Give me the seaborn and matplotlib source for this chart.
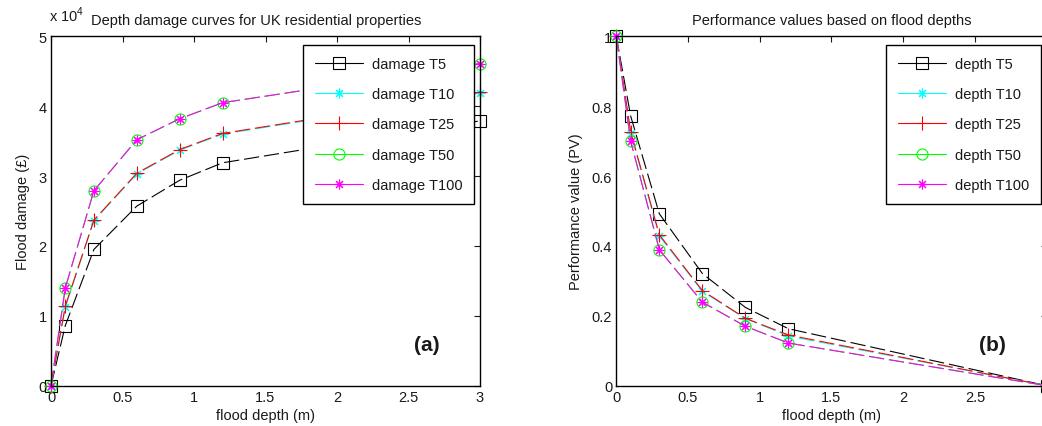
import matplotlib
matplotlib.use("Agg")
import matplotlib.pyplot as plt
from matplotlib.lines import Line2D
from matplotlib.ticker import FuncFormatter, MultipleLocator
import seaborn as sns

# Flood depths (m) at which damage and performance values were evaluated
depth = [0.0, 0.1, 0.3, 0.6, 0.9, 1.2, 3.0]

# Return periods
series_names = ["T5", "T10", "T25", "T50", "T100"]

# Depth damage (GBP) for each return period
damage_T5 = [0, 8600, 19500, 25700, 29400, 31900, 37900]
damage_T10 = [0, 11200, 23600, 30300, 33700, 36000, 41900]
damage_T25 = [0, 11400, 23700, 30400, 33800, 36100, 42000]
damage_T50 = [0, 14000, 27900, 35200, 38200, 40500, 46100]
damage_T100 = [0, 14000, 27900, 35200, 38200, 40500, 46100]

# Performance values for each return period
pv_T5 = [1.0, 0.772, 0.492, 0.321, 0.224, 0.163, 0.0]
pv_T10 = [1.0, 0.722, 0.428, 0.270, 0.192, 0.142, 0.0]
pv_T25 = [1.0, 0.727, 0.432, 0.272, 0.193, 0.145, 0.0]
pv_T50 = [1.0, 0.700, 0.389, 0.239, 0.170, 0.122, 0.0]
pv_T100 = [1.0, 0.700, 0.389, 0.239, 0.170, 0.122, 0.0]

damage = [damage_T5, damage_T10, damage_T25, damage_T50, damage_T100]
pv = [pv_T5, pv_T10, pv_T25, pv_T50, pv_T100]

colors = ["#000000", "#00FFFF", "#FF0000", "#00FF00", "#FF00FF"]
markers = ["s", (8, 2, 0), "+", "o", (8, 2, 0)]
msizes = [8.5, 7, 10, 8, 7]

sns.set_theme(style="white")
plt.rcParams["font.family"] = ["Liberation Sans", "DejaVu Sans"]
plt.rcParams["mathtext.fontset"] = "custom"
plt.rcParams["mathtext.rm"] = "Liberation Sans"
plt.rcParams["lines.scale_dashes"] = False
plt.rcParams["text.color"] = "#1a1a1a"
plt.rcParams["axes.labelcolor"] = "#1a1a1a"
plt.rcParams["xtick.color"] = "#1a1a1a"
plt.rcParams["ytick.color"] = "#1a1a1a"

fig = plt.figure(figsize=(10.42, 4.27), dpi=100)
ax1 = fig.add_axes([51 / 1042, 1 - 386.7 / 427, 429 / 1042, 349.4 / 427])
ax2 = fig.add_axes([616.3 / 1042, 1 - 386.7 / 427, 430.4 / 1042, 349.4 / 427])

dash = (0, (11, 3.5))


def draw(ax, values, prefix):
    handles = []
    for name, ys, c, m, ms in zip(series_names, values, colors, markers, msizes):
        sns.lineplot(x=depth, y=ys, ax=ax, color=c, marker=m, markersize=ms,
                     mfc="none", mec=c, mew=0.8, linewidth=0.8,
                     linestyle=dash, estimator=None, sort=False)
        handles.append(Line2D([], [], color=c, marker=m, markersize=ms,
                              mfc="none", mec=c, mew=0.8, linewidth=0.8,
                              linestyle="-", label=f"{prefix} {name}"))
    leg = ax.legend(handles=handles, loc="upper right",
                    bbox_to_anchor=(0.986, 0.975), borderaxespad=0,
                    fontsize=10.5, handlelength=3.3, labelspacing=1.12,
                    borderpad=0.8, handletextpad=0.6, fancybox=False,
                    framealpha=1, edgecolor="#000000")
    leg.get_frame().set_linewidth(1.0)


def style(ax, hide_last=False):
    ax.set_xlim(0, 3)
    ax.xaxis.set_major_locator(MultipleLocator(0.5))
    if hide_last:
        fmt = FuncFormatter(lambda v, p: "" if v >= 3 else f"{v:g}")
    else:
        fmt = FuncFormatter(lambda v, p: f"{v:g}")
    ax.xaxis.set_major_formatter(fmt)
    ax.tick_params(direction="in", length=4, width=0.8, top=True, right=True,
                   labelsize=10.5, pad=3)
    for s in ax.spines.values():
        s.set_color("#000000")
        s.set_linewidth(1.0)
        s.set_visible(True)
    ax.set_xlabel("flood depth (m)", fontsize=10.5, labelpad=3)


draw(ax1, damage, "damage")
style(ax1)
ax1.set_ylim(0, 50000)
ax1.yaxis.set_major_locator(MultipleLocator(10000))
ax1.yaxis.set_major_formatter(FuncFormatter(lambda v, p: f"{v / 1e4:g}"))
ax1.set_ylabel("Flood damage (£)", fontsize=10.5, labelpad=6)
ax1.text(-0.005, 1.035, r"x 10$^4$", transform=ax1.transAxes, fontsize=10.5,
         ha="left", va="bottom")
ax1.set_title("Depth damage curves for UK residential properties",
              fontsize=10.5, pad=9, x=0.478)
ax1.text(0.876, 0.119, "(a)", transform=ax1.transAxes, fontsize=15,
         fontweight="bold", ha="center", va="center")

draw(ax2, pv, "depth")
style(ax2, hide_last=True)
ax2.set_ylim(0, 1)
ax2.yaxis.set_major_locator(MultipleLocator(0.2))
ax2.yaxis.set_major_formatter(FuncFormatter(lambda v, p: f"{v:g}"))
ax2.set_ylabel("Performance value (PV)", fontsize=10.5, labelpad=6)
ax2.set_title("Performance values based on flood depths", fontsize=10.5, pad=9)
ax2.text(0.875, 0.119, "(b)", transform=ax2.transAxes, fontsize=15,
         fontweight="bold", ha="center", va="center")

for ax in (ax1, ax2):
    for ln in ax.lines:
        ln.set_clip_on(False)

fig.savefig("out.png", dpi=100)
